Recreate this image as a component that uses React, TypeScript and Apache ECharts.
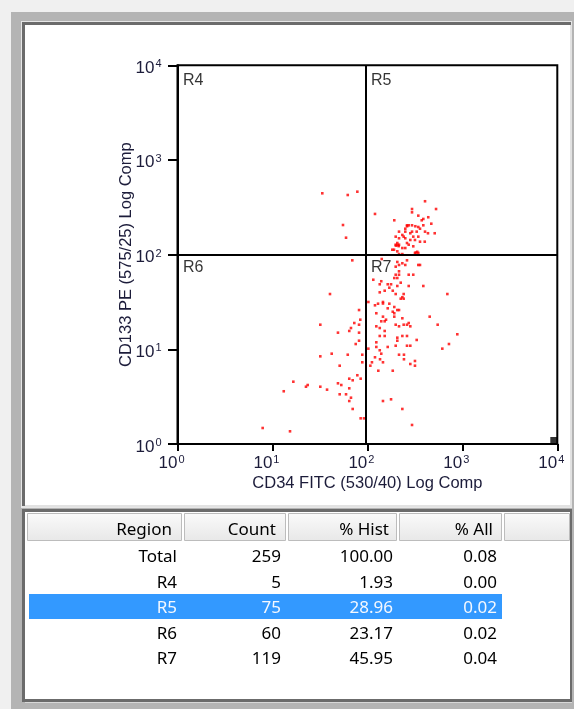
import React, { useEffect, useRef } from 'react';
import * as echarts from 'echarts';

// Event coordinates in log10 decades of the compensated signal (axes span 10^0 .. 10^4)
// [CD34 FITC, CD133 PE]
const r4Events: number[][] = [
  [1.525, 2.648], [1.793, 2.630], [1.894, 2.665], [1.743, 2.313], [1.775, 2.179],
];

const r5Events: number[][] = [
  [2.080, 2.430], [2.607, 2.564], [2.723, 2.482], [2.470, 2.482], [2.470, 2.447],
  [2.283, 2.363], [2.536, 2.412], [2.641, 2.395], [2.589, 2.377], [2.572, 2.363],
  [2.673, 2.327], [2.470, 2.310], [2.435, 2.310], [2.417, 2.310], [2.589, 2.310],
  [2.536, 2.292], [2.399, 2.274], [2.554, 2.274], [2.333, 2.243], [2.399, 2.243],
  [2.470, 2.243], [2.519, 2.243], [2.607, 2.243], [2.709, 2.226], [2.638, 2.226],
  [2.452, 2.226], [2.368, 2.208], [2.298, 2.190], [2.382, 2.190], [2.483, 2.190],
  [2.536, 2.190], [2.333, 2.173], [2.399, 2.173], [2.452, 2.155], [2.501, 2.155],
  [2.315, 2.123], [2.417, 2.123], [2.554, 2.137], [2.604, 2.137], [2.298, 2.105],
  [2.333, 2.105], [2.435, 2.105], [2.483, 2.088], [2.368, 2.070], [2.399, 2.070],
  [2.280, 2.052], [2.315, 2.035], [2.262, 2.052], [2.501, 2.018], [2.536, 2.018],
  [2.333, 2.006], [2.368, 2.006], [2.320, 2.100], [2.330, 2.090], [2.510, 2.022],
  [2.525, 2.030], [2.300, 2.095], [2.418, 2.300], [2.505, 2.300],
];

const r6Events: number[][] = [
  [1.841, 1.940], [1.606, 1.584], [1.912, 1.415], [1.925, 1.313], [1.862, 1.278],
  [1.504, 1.260], [1.912, 1.260], [1.827, 1.225], [1.809, 1.194], [1.690, 1.176],
  [1.912, 1.176], [1.912, 1.091], [1.877, 1.056], [1.624, 0.954], [1.793, 0.943],
  [1.946, 0.943], [1.504, 0.926], [1.946, 0.863], [1.708, 0.827], [1.894, 0.726],
  [1.809, 0.690], [1.845, 0.673], [1.929, 0.690], [1.220, 0.658], [1.690, 0.641],
  [1.725, 0.623], [1.371, 0.623], [1.353, 0.605], [1.504, 0.605], [1.809, 0.588],
  [1.575, 0.574], [1.119, 0.557], [1.708, 0.525], [1.775, 0.525], [1.827, 0.489],
  [1.809, 0.454], [1.845, 0.370], [1.929, 0.271], [1.964, 0.271], [0.897, 0.169],
  [1.185, 0.134],
];

const r7Events: number[][] = [
  [2.151, 1.954], [2.315, 1.923], [2.368, 1.909], [2.417, 1.940], [2.536, 1.891],
  [2.554, 1.891], [2.298, 1.873], [2.333, 1.891], [2.399, 1.891], [2.333, 1.824],
  [2.298, 1.788], [2.333, 1.788], [2.435, 1.788], [2.483, 1.788], [2.283, 1.753],
  [2.315, 1.753], [2.062, 1.735], [2.146, 1.719], [2.351, 1.704], [2.130, 1.687],
  [2.214, 1.687], [2.249, 1.687], [2.315, 1.669], [2.435, 1.669], [2.589, 1.669],
  [2.231, 1.651], [2.267, 1.619], [2.182, 1.619], [2.130, 1.602], [2.298, 1.584],
  [2.382, 1.584], [2.842, 1.584], [2.368, 1.550], [2.351, 1.535], [2.382, 1.535],
  [2.010, 1.500], [2.112, 1.482], [2.164, 1.500], [2.164, 1.484], [2.231, 1.482],
  [2.080, 1.465], [2.283, 1.447], [2.214, 1.433], [2.315, 1.415], [2.333, 1.415],
  [2.267, 1.397], [2.283, 1.381], [2.094, 1.381], [2.164, 1.345], [2.283, 1.345],
  [2.656, 1.345], [2.368, 1.328], [2.196, 1.313], [2.146, 1.296], [2.182, 1.296],
  [2.435, 1.278], [2.298, 1.260], [2.382, 1.260], [2.417, 1.260], [2.452, 1.243],
  [2.740, 1.260], [2.094, 1.243], [2.333, 1.243], [2.130, 1.225], [2.182, 1.194],
  [2.130, 1.141], [2.182, 1.141], [2.368, 1.141], [2.417, 1.141], [2.315, 1.123],
  [2.947, 1.159], [2.315, 1.091], [2.519, 1.099], [2.094, 1.074], [2.859, 1.056],
  [2.298, 1.038], [2.417, 1.038], [2.452, 1.038], [2.094, 1.025], [2.214, 1.025],
  [2.010, 1.007], [2.789, 1.007], [2.130, 0.990], [2.146, 0.954], [2.333, 0.943],
  [2.385, 0.943], [2.080, 0.916], [2.385, 0.895], [2.133, 0.895], [2.048, 0.863],
  [2.164, 0.863], [2.031, 0.827], [2.452, 0.845], [2.501, 0.877], [2.501, 0.827],
  [2.115, 0.774], [2.267, 0.774], [2.164, 0.454], [2.249, 0.472], [2.368, 0.370],
  [2.470, 0.201],
];

// off-scale events piled in the corner (max CD34, min CD133)
const offscaleEvents: number[][] = [[4, 0]];

// quadrant gate positions (log10 decades)
const cd34Gate = 1.98;
const cd133Gate = 2;
const regionNames = ['R4', 'R5', 'R6', 'R7'];

// statistics table
const tableHeaders = ['Region', 'Count', '% Hist', '% All'];
const tableRegions = ['Total', 'R4', 'R5', 'R6', 'R7'];
const tableCounts = [259, 5, 75, 60, 119];
const tablePctHist = [100.0, 1.93, 28.96, 23.17, 45.95];
const tablePctAll = [0.08, 0.0, 0.02, 0.02, 0.04];
const selectedRow = 2;

const W = 574;
const H = 709;
const AX_FONT = '"Liberation Sans", Arial, sans-serif';
const TB_FONT = '"Noto Sans", "Open Sans", sans-serif';
const AX_COLOR = '#1c1c3a';

function buildGraphics() {
  const g: any[] = [];
  const rect = (x: number, y: number, w: number, h: number, fill: any, extra: any = {}) =>
    g.push({ type: 'rect', shape: { x, y, width: w, height: h }, style: { fill, ...extra }, silent: true, z: -10 });
  // window frame
  rect(0, 0, W, H, '#f0f0f0');
  rect(11, 12, W - 11, H - 12, '#b4b4b4');
  // chart panel
  rect(21, 21, 551, 487, '#e6e6e6');
  rect(22, 22, 549, 484, '#6b6b6b');
  rect(25, 25, 545, 480, '#ffffff');
  rect(25, 505, 547, 2, '#e2e2e2');
  rect(570, 25, 2, 482, '#e2e2e2');
  // table panel
  rect(22, 509, 550, 193, '#6b6b6b');
  rect(25, 512, 545, 187, '#ffffff');
  rect(25, 702, 547, 1, '#d8d8d8');

  const cols = [[27, 182], [184, 286], [288, 397], [399, 502], [504, 570]];
  cols.forEach(([a, b]) => {
    g.push({
      type: 'rect', silent: true, z: -5,
      shape: { x: a + 0.5, y: 513.5, width: b - a - 1, height: 27 },
      style: {
        fill: new echarts.graphic.LinearGradient(0, 0, 0, 1, [
          { offset: 0, color: '#fafafa' }, { offset: 1, color: '#e8e8e8' },
        ]),
        stroke: '#bcbcbc', lineWidth: 1,
      },
    });
  });
  const headRight = [172, 276, 389, 493];
  const dataRight = [177, 281, 393, 497];
  tableHeaders.forEach((t, i) => {
    g.push({
      type: 'text', silent: true, z: 5, x: headRight[i], y: 528,
      style: { text: t, fill: '#000', font: `17px ${TB_FONT}`, align: 'right', verticalAlign: 'middle' },
    });
  });
  const rowY0 = 555.5;
  const rowH = 25.5;
  rect(29, rowY0 + selectedRow * rowH - 12.5, 473, 25, '#3399ff');
  tableRegions.forEach((r, i) => {
    const cells = [r, String(tableCounts[i]), tablePctHist[i].toFixed(2), tablePctAll[i].toFixed(2)];
    cells.forEach((c, j) => {
      g.push({
        type: 'text', silent: true, z: 5, x: dataRight[j], y: rowY0 + i * rowH,
        style: {
          text: c, fill: i === selectedRow ? '#f4f8ff' : '#000', font: `17px ${TB_FONT}`,
          align: 'right', verticalAlign: 'middle',
        },
      });
    });
  });
  return g;
}

const richLabel = {
  b: { fontFamily: AX_FONT, fontSize: 17, color: AX_COLOR, lineHeight: 19, verticalAlign: 'middle' },
  s: { fontFamily: AX_FONT, fontSize: 11, color: AX_COLOR, lineHeight: 12, verticalAlign: 'top', padding: [0, 0, 0, 1] },
};

function makeOption(): any {
  const eventStyle = {
    type: 'scatter', symbol: 'rect', symbolSize: 2.6, silent: true,
    itemStyle: { color: '#ff0000' },
  };
  return {
    animation: false,
    backgroundColor: 'transparent',
    graphic: buildGraphics(),
    grid: {
      left: 177.5, top: 65.3, width: 379.8, height: 378.7,
      show: true, borderColor: '#000', borderWidth: 2, backgroundColor: 'transparent',
    },
    xAxis: {
      type: 'value', min: 0, max: 4, interval: 1,
      axisLine: { show: true, onZero: false, lineStyle: { color: '#000', width: 2 } },
      axisTick: { show: true, length: 7, lineStyle: { color: '#000', width: 2 } },
      splitLine: { show: false },
      axisLabel: {
        margin: 9, padding: [0, 12, 0, 0], fontSize: 17, fontFamily: AX_FONT, color: AX_COLOR,
        formatter: (v: number) => `{b|10}{s|${v}}`,
        rich: richLabel,
      },
      name: 'CD34 FITC (530/40) Log Comp',
      nameLocation: 'middle', nameGap: 29.5, nameMoveOverlap: false,
      nameTextStyle: { fontFamily: AX_FONT, fontSize: 16.5, color: AX_COLOR },
    },
    yAxis: {
      type: 'value', min: 0, max: 4, interval: 1,
      axisLine: { show: true, onZero: false, lineStyle: { color: '#000', width: 2 } },
      axisTick: { show: true, length: 9.5, lineStyle: { color: '#000', width: 2 } },
      splitLine: { show: false },
      axisLabel: {
        margin: 16, padding: [4, 0, 0, 0], fontSize: 17, fontFamily: AX_FONT, color: AX_COLOR,
        formatter: (v: number) => `{b|10}{s|${v}}`,
        rich: richLabel,
      },
      name: 'CD133 PE (575/25) Log Comp',
      nameLocation: 'middle', nameGap: 44, nameRotate: 90, nameMoveOverlap: false,
      nameTextStyle: { fontFamily: AX_FONT, fontSize: 16.5, color: AX_COLOR },
    },
    series: [
      { ...eventStyle, name: 'R4', data: r4Events },
      { ...eventStyle, name: 'R5', data: r5Events },
      { ...eventStyle, name: 'R6', data: r6Events },
      {
        ...eventStyle, name: 'R7', data: r7Events,
        markLine: {
          silent: true, symbol: ['none', 'none'], label: { show: false },
          lineStyle: { color: '#000', width: 2, type: 'solid' },
          data: [{ xAxis: cd34Gate }, { yAxis: cd133Gate }],
        },
      },
      {
        type: 'scatter', name: 'offscale', silent: true, symbol: 'rect', symbolSize: 7,
        symbolOffset: [-3.5, -3.5], clip: false, itemStyle: { color: '#000' }, data: offscaleEvents,
      },
      {
        type: 'scatter', name: 'regions', silent: true, symbolSize: 1, clip: false,
        itemStyle: { color: 'rgba(0,0,0,0)' },
        data: regionNames.map((n, i) => {
          const x = i % 2 === 0 ? 0 : cd34Gate;
          const y = i < 2 ? 4 : cd133Gate;
          return {
            name: n, value: [x, y],
            label: { position: [6, i < 2 ? 15 : 12] },
          };
        }),
        label: {
          show: true, formatter: (p: any) => p.name, align: 'left', verticalAlign: 'middle',
          fontFamily: AX_FONT, fontSize: 16, color: '#000',
        },
      },
    ],
  };
}

export default function App() {
  const ref = useRef<HTMLDivElement>(null);
  useEffect(() => {
    if (!ref.current) return;
    const chart = echarts.init(ref.current, null, { renderer: 'svg', width: W, height: H });
    chart.setOption(makeOption());
    return () => chart.dispose();
  }, []);
  return <div ref={ref} style={{ position: 'fixed', left: 0, top: 0, width: W, height: H }} />;
}
